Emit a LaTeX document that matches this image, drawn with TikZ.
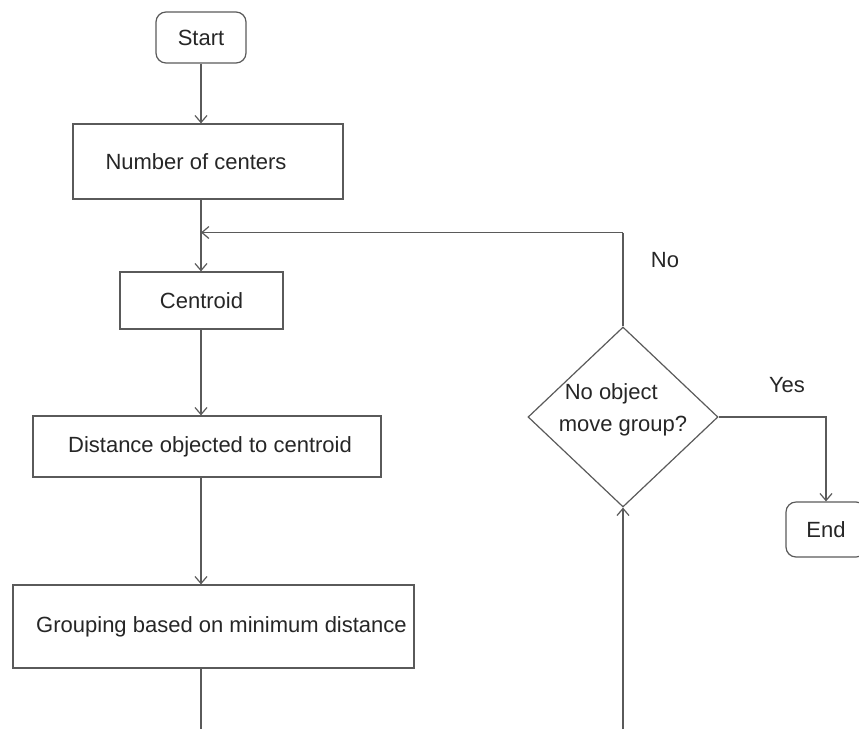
\documentclass[tikz,border=0pt]{standalone}
\usepackage{fontspec}
\setmainfont{Liberation Sans}
\usetikzlibrary{arrows.meta,shapes.geometric}

\definecolor{linegray}{HTML}{5A5A5A}
\definecolor{textgray}{HTML}{262626}

\tikzset{
 line/.style={draw=linegray, line width=1.2pt},
 arr/.style={line, -{Straight Barb[length=7pt,width=12pt]}},
 box/.style={line, rectangle, inner sep=0pt},
 term/.style={box, rounded corners=10pt},
 decide/.style={line, diamond, inner sep=0pt, minimum width=190pt, minimum height=180pt},
}

\begin{document}
\begin{tikzpicture}[x=1pt,y=-1pt, font=\fontsize{22}{32}\selectfont, text=textgray]
 \useasboundingbox (0,0) rectangle (859,729);

 \node[term, minimum width=90pt, minimum height=51pt] (start) at (201,37.5) {Start}; % Start
 \node[box, minimum width=270pt, minimum height=75pt] (num) at (208,161.5) {Number of centers\hspace*{24pt}};
 \node[box, minimum width=163pt, minimum height=57pt] (cen) at (201.5,300.5) {Centroid};
 \node[box, minimum width=348pt, minimum height=61pt] (dist) at (207,446.5) {\hspace*{6pt}Distance objected to centroid};
 \node[box, minimum width=401pt, minimum height=83pt] (grp) at (213.5,626.5) {\hspace*{16pt}Grouping based on minimum distance};
 \node[decide] (dec) at (623,417)
  {\raisebox{3pt}[0pt][0pt]{\begin{tabular}{@{}l@{}}\hspace*{6pt}No object\\move group?\end{tabular}}}; % 判定
 \node[term, minimum width=80pt, minimum height=55pt] (fin) at (826,529.5) {End};

 \node (no) at (665,260) {No};
 \node (yes) at (787,385) {Yes};

 \coordinate (back) at (623,232.5); % 戻り線の角
 \coordinate (bot) at (0,729);      % 下端

 \draw [arr] (start.south) -- (start.south |- num.north);
 \draw [arr] (start.south |- num.south) -- (start.south |- cen.north);
 \draw [arr] (start.south |- cen.south) -- (start.south |- dist.north);
 \draw [arr] (start.south |- dist.south) -- (start.south |- grp.north);
 \draw [line] (start.south |- grp.south) -- (start.south |- bot);

 \draw [arr] (dec.south |- bot) -- (dec.south);
 \draw [line] (dec.north) -- (back);
 \draw [arr] (back) -- (start.south |- back);
 \draw [arr] (dec.east) -| (fin.north);
\end{tikzpicture}
\end{document}
